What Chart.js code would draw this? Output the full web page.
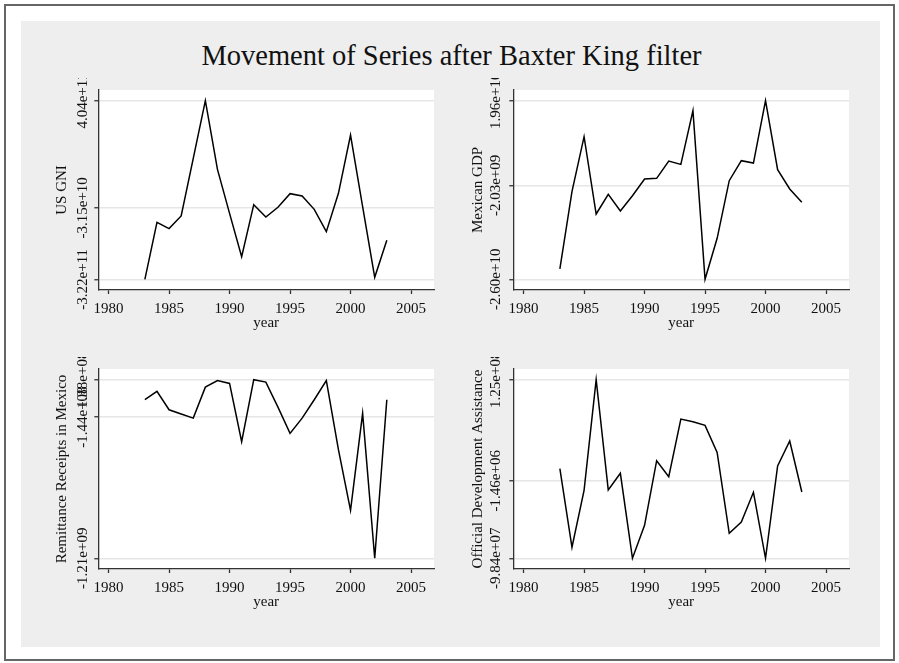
<!DOCTYPE html>
<html><head><meta charset="utf-8">
<script src="https://cdn.jsdelivr.net/npm/chart.js@4.4.1/dist/chart.umd.min.js"></script>
<style>
body{margin:0;background:#fff;width:899px;height:663px;position:relative;overflow:hidden;font-family:"Liberation Serif",serif}
#frame{position:absolute;left:4px;top:4px;width:887px;height:653px;border:2px solid #666}
#bg{position:absolute;left:21px;top:21px;width:859px;height:626px;background:#eeeeee}
#title{position:absolute;left:2px;width:899px;top:42px;text-align:center;font-size:28.5px;line-height:28.5px;color:#111;white-space:nowrap}
canvas{position:absolute}
</style></head><body>
<div id="frame"></div><div id="bg"></div>
<div id="title">Movement of Series after Baxter King filter</div>
<canvas id="c1" width="425" height="265" style="left:25px;top:78px"></canvas>
<canvas id="c2" width="425" height="265" style="left:440px;top:78px"></canvas>
<canvas id="c3" width="425" height="265" style="left:25px;top:357px"></canvas>
<canvas id="c4" width="425" height="265" style="left:440px;top:357px"></canvas>
<script>
const years=[1983,1984,1985,1986,1987,1988,1989,1990,1991,1992,1993,1994,1995,1996,1997,1998,1999,2000,2001,2002,2003];
const xTicks=[1980,1985,1990,1995,2000,2005];

const usGni=[-3.22e11,-9.04e10,-1.16e11,-6.46e10,1.697e11,4.04e11,1.25e11,-5.4e10,-2.30e11,-1.86e10,-6.87e10,-2.94e10,2.61e10,1.66e10,-3.76e10,-1.283e11,2.75e10,2.645e11,-2.67e10,-3.14e11,-1.635e11];
const usGniTicks=[-3.22e11,-3.15e10,4.04e11];
const usGniLabels=["-3.22e+11","-3.15e+10","4.04e+11"];

const mexGdp=[-2.336e10,-3.63e9,1.041e10,-9.33e9,-4.31e9,-8.56e9,-4.65e9,-3.9e8,-2.2e8,4.2e9,3.35e9,1.705e10,-2.60e10,-1.554e10,-8.2e8,4.28e9,3.69e9,1.96e10,1.99e9,-2.95e9,-6.35e9];
const mexGdpTicks=[-2.60e10,-2.03e9,1.96e10];
const mexGdpLabels=["-2.60e+10","-2.03e+09","1.96e+10"];

const remit=[-1.3e7,5.0e7,-8.9e7,-1.21e8,-1.52e8,8.2e7,1.32e8,1.10e8,-3.30e8,1.38e8,1.20e8,-6.9e7,-2.67e8,-1.52e8,-1.3e7,1.32e8,-3.90e8,-8.48e8,-1.16e8,-1.21e9,-1.3e7];
const remitTicks=[-1.21e9,-1.44e8,1.38e8];
const remitLabels=["-1.21e+09","-1.44e+08","1.38e+08"];

const oda=[1.37e7,-8.46e7,-1.34e7,1.25e8,-1.30e7,7.9e6,-9.84e7,-5.71e7,2.37e7,3.7e6,7.58e7,7.25e7,6.79e7,3.41e7,-6.71e7,-5.30e7,-1.59e7,-9.84e7,1.71e7,4.83e7,-1.55e7];
const odaTicks=[-9.84e7,-1.46e6,1.25e8];
const odaLabels=["-9.84e+07","-1.46e+06","1.25e+08"];

const X_MIN=1979.15,X_MAX=2006.9;
const FONT="'Liberation Serif', serif";
Chart.defaults.font.family=FONT;
Chart.defaults.font.size=15;
Chart.defaults.color="#111";

const mctx=document.createElement("canvas").getContext("2d");
function textWidth(s){mctx.font="15px "+FONT;return mctx.measureText(s).width}

const plotBg={id:"plotBg",beforeDraw(ch){
  const a=ch.chartArea,ctx=ch.ctx;
  ctx.save();ctx.fillStyle="#fff";ctx.fillRect(a.left,a.top,a.right-a.left,a.bottom-a.top);ctx.restore();
}};

function panel(id,title,values,ticks,labels,labelGap,titleGap){
  const span=ticks[2]-ticks[0];
  const widest=Math.max(...labels.map(textWidth));
  return new Chart(document.getElementById(id),{type:"line",
    data:{datasets:[{data:years.map((y,i)=>({x:y,y:values[i]})),borderColor:"#000",borderWidth:1.5,pointRadius:0,tension:0,fill:false}]},
    options:{responsive:false,animation:false,
      layout:{padding:{left:0,top:12,right:16,bottom:3}},
      plugins:{legend:{display:false},tooltip:{enabled:false}},
      scales:{
        x:{type:"linear",min:X_MIN,max:X_MAX,
          afterBuildTicks:s=>{s.ticks=xTicks.map(v=>({value:v}))},
          afterFit:s=>{s.height=50},
          ticks:{padding:6,maxRotation:0,autoSkip:false,callback:v=>String(v)},
          grid:{drawOnChartArea:false,tickLength:4,tickColor:"#333",tickWidth:1.3},
          border:{color:"#333",width:1.3},
          title:{display:true,text:"year",padding:{top:0,bottom:8}}},
        y:{type:"linear",min:ticks[0]-0.06*span,max:ticks[2]+0.06*span,
          afterBuildTicks:s=>{s.ticks=ticks.map(v=>({value:v}))},
          afterFit:s=>{s.width=73.3},
          ticks:{minRotation:90,maxRotation:90,autoSkip:false,crossAlign:"center",padding:labelGap-4-widest/2,callback:(v,i)=>labels[i]},
          grid:{color:"#e6e6e6",lineWidth:1.5,tickLength:4,tickColor:"#333",tickWidth:1.3},
          border:{color:"#333",width:1.3},
          title:{display:true,text:title,padding:{top:titleGap-9,bottom:0}}}
      }},plugins:[plotBg]});
}

panel("c1","US GNI",usGni,usGniTicks,usGniLabels,15,36.6);
panel("c2","Mexican GDP",mexGdp,mexGdpTicks,mexGdpLabels,17,37.6);
panel("c3","Remittance Receipts in Mexico",remit,remitTicks,remitLabels,15,36.6);
panel("c4","Official Development Assistance",oda,odaTicks,odaLabels,17,37.6);
</script>
</body></html>
